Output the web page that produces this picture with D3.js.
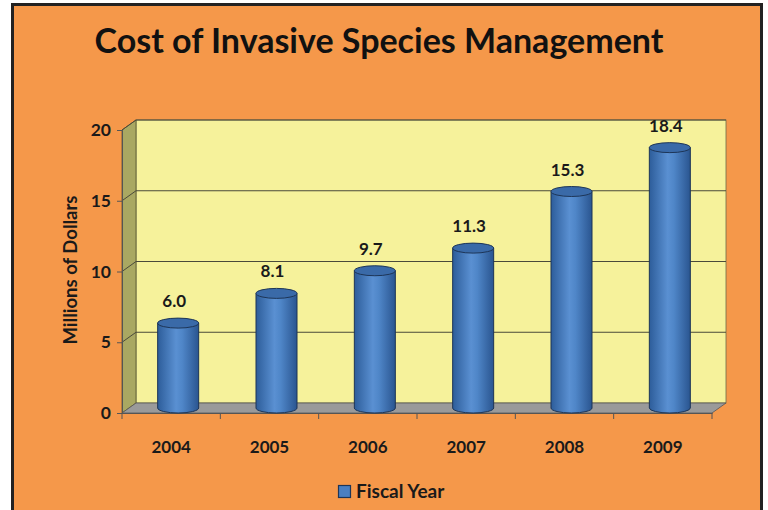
<!DOCTYPE html>
<html><head><meta charset="utf-8">
<script src="https://cdn.jsdelivr.net/npm/d3@7"></script>
<style>html,body{margin:0;padding:0;background:#fff;}svg{display:block;}</style>
</head><body>
<svg id="c" width="768" height="510"></svg>
<script>
const years = ["2004","2005","2006","2007","2008","2009"];
const costs = [6.0, 8.1, 9.7, 11.3, 15.3, 18.4];
const yTicks = [0, 5, 10, 15, 20];
const titleText = "Cost of Invasive Species Management";
const yTitle = "Millions of Dollars";
const legendLabel = "Fiscal Year";

const svg = d3.select("#c");
const FONT = "Lato, 'Open Sans', sans-serif";
const DX = 14, DY = -10;

// panel
svg.append("rect").attr("x",0).attr("y",0).attr("width",768).attr("height",510).attr("fill","#fff");
svg.append("rect").attr("x",12.5).attr("y",4.5).attr("width",749).attr("height",520)
  .attr("fill","#f5984a").attr("stroke","#222").attr("stroke-width",3);

const x = d3.scaleBand().domain(years).range([122,712]);
const y = d3.scaleLinear().domain([0,20]).range([413,130]);

const defs = svg.append("defs");
const g = defs.append("linearGradient").attr("id","cyl").attr("x1","0").attr("x2","1").attr("y1","0").attr("y2","0");
[[0,"#2d5d9a"],[0.45,"#5a90d2"],[0.6,"#4f86c8"],[1,"#2a5590"]].forEach(([o,c])=>g.append("stop").attr("offset",o).attr("stop-color",c));

const x0 = x.range()[0], x1 = x.range()[1], y0 = y(0), yTop = y(20);
// back wall
svg.append("rect").attr("x",x0+DX).attr("y",yTop+DY).attr("width",x1-x0).attr("height",y0-yTop)
  .attr("fill","#f6f29b").attr("stroke","#6b6b4a").attr("stroke-width",0.8);
// left wall
svg.append("path").attr("d",`M${x0},${yTop}L${x0+DX},${yTop+DY}L${x0+DX},${y0+DY}L${x0},${y0}Z`)
  .attr("fill","#a9a862").attr("stroke","#55552f").attr("stroke-width",0.8);
// floor
svg.append("path").attr("d",`M${x0},${y0}L${x1},${y0}L${x1+DX},${y0+DY}L${x0+DX},${y0+DY}Z`)
  .attr("fill","#9a9a9a").attr("stroke","#555").attr("stroke-width",0.8);

// gridlines
yTicks.filter(t=>t>0).forEach(t=>{
  svg.append("path").attr("d",`M${x0},${y(t)}L${x0+DX},${y(t)+DY}L${x1+DX},${y(t)+DY}`)
    .attr("fill","none").attr("stroke","#4a4a3a").attr("stroke-width",1);
});

// y axis
const yAxis = d3.axisLeft(y).tickValues(yTicks).tickSize(5).tickPadding(6).tickFormat(d3.format("d"));
const ya = svg.append("g").attr("transform",`translate(${x0},0)`).call(yAxis);
ya.select(".domain").attr("stroke","#555");
ya.selectAll(".tick line").attr("stroke","#555");
ya.selectAll("text").attr("font-family",FONT).attr("font-weight",700).attr("font-size",17.5).attr("fill","#1a1a1a");

// x axis
const xAxis = d3.axisBottom(x).tickSize(0).tickPadding(28);
const xa = svg.append("g").attr("transform",`translate(0,${y0})`).call(xAxis);
xa.select(".domain").attr("stroke","#555");
xa.selectAll("text").attr("font-family",FONT).attr("font-weight",700).attr("font-size",17).attr("fill","#1a1a1a");
// boundary ticks
const bounds = years.map(d=>x(d)).concat([x1]);
svg.selectAll(".xt").data(bounds).enter().append("line")
  .attr("x1",d=>d).attr("x2",d=>d).attr("y1",y0).attr("y2",y0+6).attr("stroke","#555");

// cylinders
const bw = 41, ry = 5;
const bars = svg.selectAll(".bar").data(years.map((d,i)=>({year:d,v:costs[i]}))).enter().append("g");
bars.each(function(d){
  const gg = d3.select(this);
  const cx = x(d.year) + x.bandwidth()/2 + DX/2;
  const yb = y(0) + DY/2;
  const yt = y(d.v) + DY/2;
  const rx = bw/2;
  gg.append("path").attr("d",`M${cx-rx},${yt}L${cx-rx},${yb}A${rx},${ry} 0 0 0 ${cx+rx},${yb}L${cx+rx},${yt}Z`)
    .attr("fill","url(#cyl)").attr("stroke","#1d3557").attr("stroke-width",1);
  gg.append("ellipse").attr("cx",cx).attr("cy",yt).attr("rx",rx).attr("ry",ry)
    .attr("fill","#3a6aa8").attr("stroke","#1d3557").attr("stroke-width",1);
  gg.append("text").attr("x",cx-4).attr("y",yt-16).attr("text-anchor","middle")
    .attr("font-family",FONT).attr("font-weight",700).attr("font-size",17).attr("fill","#1a1a1a")
    .text(d3.format(".1f")(d.v));
});

// title
svg.append("text").attr("x",379).attr("y",53).attr("text-anchor","middle")
  .attr("font-family",FONT).attr("font-weight",700).attr("font-size",34).attr("fill","#111")
  .text(titleText);

// y title
svg.append("text").attr("transform","translate(77,270) rotate(-90)").attr("text-anchor","middle")
  .attr("font-family",FONT).attr("font-weight",700).attr("font-size",18.5).attr("fill","#1a1a1a")
  .text(yTitle);

// legend
svg.append("rect").attr("x",338.5).attr("y",485.5).attr("width",12).attr("height",12)
  .attr("fill","#4a7fc1").attr("stroke","#1d3557").attr("stroke-width",1.2);
svg.append("text").attr("x",356).attr("y",498).attr("font-family",FONT).attr("font-weight",700)
  .attr("font-size",19).attr("fill","#1a1a1a").text(legendLabel);
</script>
</body></html>
